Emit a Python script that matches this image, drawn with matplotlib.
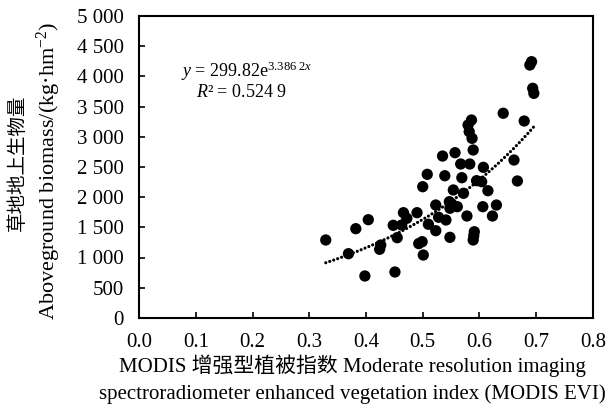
"""
草地地上生物量 vs MODIS EVI 散点图 + 指数趋势线
"""
import matplotlib
matplotlib.use('Agg')

import matplotlib.pyplot as plt
import numpy as np
from matplotlib.ticker import FuncFormatter

# 字体：英文 Times 风格，中文回退到 Noto Sans CJK
plt.rcParams['font.family'] = ['Liberation Serif', 'Noto Sans CJK SC']
plt.rcParams['mathtext.fontset'] = 'custom'
plt.rcParams['mathtext.rm'] = 'Liberation Serif'
plt.rcParams['mathtext.it'] = 'Liberation Serif:italic'
plt.rcParams['axes.unicode_minus'] = False

# 数据：EVI 与地上生物量 (kg/hm2)
evi = [0.329, 0.369, 0.382, 0.398, 0.404, 0.424, 0.426, 0.448, 0.451, 0.455,
       0.463, 0.466, 0.472, 0.490, 0.493, 0.499, 0.501, 0.500, 0.508, 0.510,
       0.523, 0.523, 0.528, 0.535, 0.539, 0.541, 0.547, 0.548, 0.548, 0.551,
       0.554, 0.557, 0.561, 0.567, 0.569, 0.572, 0.578, 0.583, 0.580, 0.582,
       0.586, 0.587, 0.589, 0.589, 0.591, 0.590, 0.595, 0.604, 0.606, 0.607,
       0.615, 0.623, 0.630, 0.642, 0.661, 0.667, 0.679, 0.689, 0.692, 0.694,
       0.696]
biomass = [1290, 1063, 1477, 694, 1626, 1136, 1207, 1533, 760, 1328,
           1538, 1742, 1649, 1742, 1230, 1262, 1041, 2172, 2377, 1550,
           1869, 1444, 1666, 2680, 2354, 1621, 1924, 1815, 1334, 1890,
           2118, 2735, 1841, 2548, 2321, 2063, 1687, 2548, 3194, 3083,
           3276, 2973, 2780, 1290, 1427, 1360, 2272, 2255, 1841, 2493,
           2106, 1687, 1869, 3388, 2614, 2267, 3260, 4187, 4242, 3801,
           3718]

# 趋势线参数 y = a * exp(b x)
fit_a = 299.82
fit_b = 3.3862

x_ticks = [0.0, 0.1, 0.2, 0.3, 0.4, 0.5, 0.6, 0.7, 0.8]
y_ticks = [0, 500, 1000, 1500, 2000, 2500, 3000, 3500, 4000, 4500, 5000]

fig = plt.figure(figsize=(6.08, 4.12), dpi=100)
ax = fig.add_axes([0.229, 0.2284, 0.746, 0.733])

ax.scatter(evi, biomass, s=66, color='black', edgecolors='none', zorder=3)

xs = np.linspace(min(evi), max(evi), 60)
ax.plot(xs, fit_a * np.exp(fit_b * xs), color='black', linestyle=(0, (0.01, 1.3)),
        linewidth=2.3, dash_capstyle='round', zorder=2)

ax.set_xlim(0, 0.8)
ax.set_ylim(0, 5000)
ax.set_xticks(x_ticks)
ax.set_yticks(y_ticks)
ax.xaxis.set_major_formatter(FuncFormatter(lambda v, p: f'{v:.1f}'))
ax.yaxis.set_major_formatter(FuncFormatter(lambda v, p: f'{int(v):,}'.replace(',', ' ')))
ax.tick_params(direction='in', length=4, width=1.2, labelsize=15)
ax.tick_params(axis='x', pad=11)
ax.tick_params(axis='y', pad=11)
for s in ax.spines.values():
    s.set_linewidth(1.5)

ax.text(0.19, 4080, r'$y$ = 299.82e$^{\mathrm{3.386\ 2}x}$', ha='center', va='center', fontsize=13)
ax.text(0.18, 3740, r'$R$² = 0.524 9', ha='center', va='center', fontsize=13)

# 坐标轴标题
fig.text(0.081, 0.585, 'Aboveground biomass/(kg·hm$^{-2}$)', rotation=90,
         ha='center', va='center', fontsize=16)
fig.text(0.029, 0.606, '草地地上生物量', rotation=90,
         ha='center', va='center', fontsize=14)
fig.text(0.58, 0.097, 'MODIS 增强型植被指数 Moderate resolution imaging',
         ha='center', va='baseline', fontsize=15)
fig.text(0.58, 0.032, 'spectroradiometer enhanced vegetation index (MODIS EVI)',
         ha='center', va='baseline', fontsize=15)

fig.savefig('out.png', dpi=100, facecolor='white')
plt.close(fig)
